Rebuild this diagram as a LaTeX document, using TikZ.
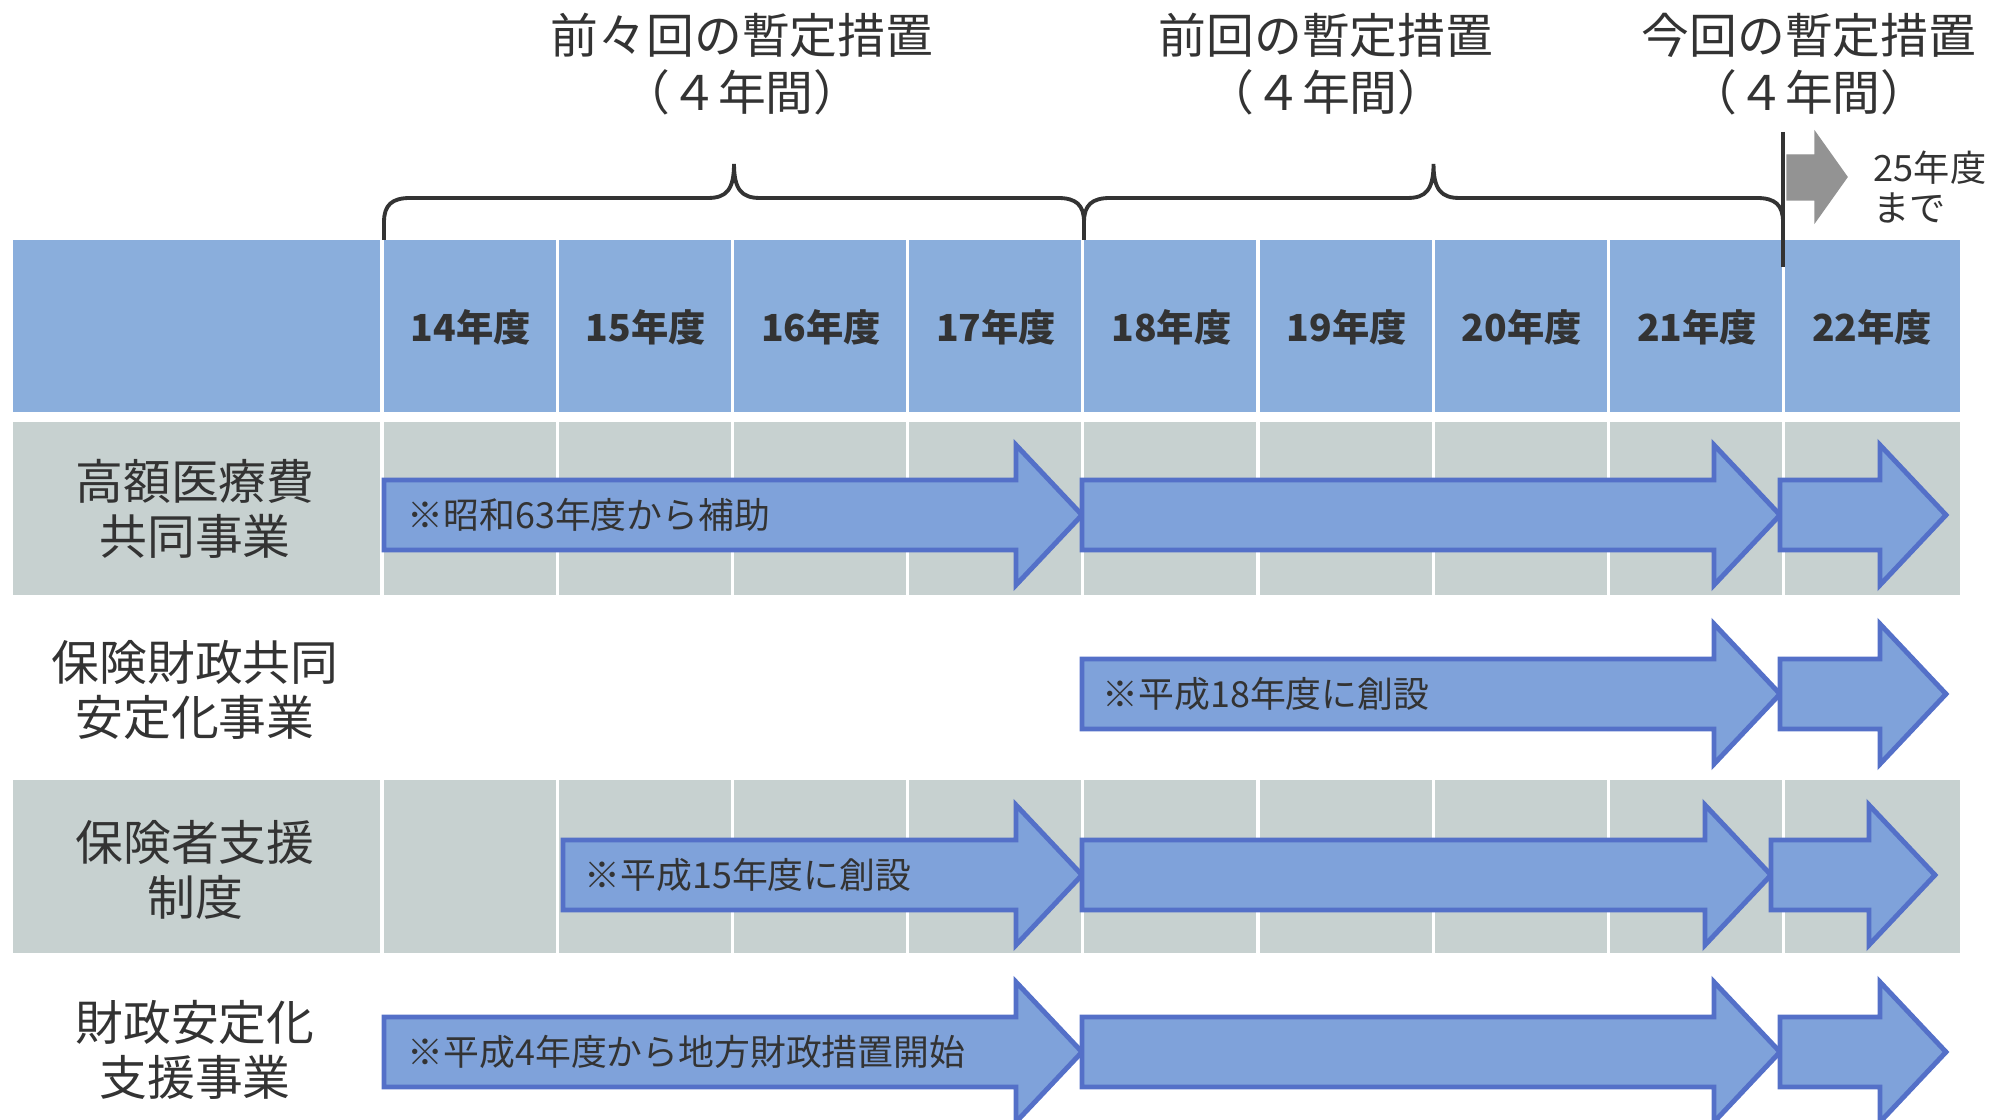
\documentclass[tikz,border=0pt]{standalone}
\usepackage{fontspec}
\setmainfont{Noto Sans CJK JP}
\definecolor{headblue}{HTML}{8AAEDC}
\definecolor{rowgray}{HTML}{C7D1D0}
\definecolor{arrowfill}{HTML}{7FA2DA}
\definecolor{arrowline}{HTML}{5470C8}
\definecolor{ink}{HTML}{333333}
\begin{document}
\begin{tikzpicture}[x=0.1mm,y=-0.1mm,
		heading/.style={font=\fontsize{13.6}{16.2}\selectfont,text=ink,align=center},
		rowlabel/.style={font=\fontsize{13.6}{15.6}\selectfont,text=ink,align=center},
		yearlabel/.style={font=\bfseries\fontsize{10.6}{13}\selectfont,text=ink},
		note/.style={font=\fontsize{10.2}{12}\selectfont,text=ink,anchor=west,inner sep=0pt},
		arrowbody/.style={fill=arrowfill,draw=arrowline,line width=1.4pt,line join=miter},
		bracket/.style={draw=ink,line width=1.1pt}]
		\useasboundingbox(0,0)rectangle(2005,1120);
		\def\fatarrow(#1,#2,#3){\filldraw[arrowbody](#1,#3-35)--(#2-66,#3-35)--(#2-66,#3-70)--(#2,#3)--(#2-66,#3+70)--(#2-66,#3+35)--(#1,#3+35)--cycle;}%
		\def\spanbrace(#1,#2){\draw[bracket](#1,240)--(#1,222)..controls(#1,205)and(#1+8,198)..(#1+26,198)--({(#1+#2)/2-26},198)..controls({(#1+#2)/2-8},198)and({(#1+#2)/2},190)..({(#1+#2)/2},164)..controls({(#1+#2)/2},190)and({(#1+#2)/2+8},198)..({(#1+#2)/2+26},198)--(#2-26,198)..controls(#2-8,198)and(#2,205)..(#2,222)--(#2,240);}%

		% table background
		\fill[headblue](13,240)rectangle(1960,412);
		\fill[rowgray](13,422)rectangle(1960,595);
		\fill[rowgray](13,780)rectangle(1960,953);
		\foreach \i in {0,...,8}
			\draw[white,line width=0.9pt](382+175.2*\i,236)--(382+175.2*\i,957);
		\fill[white](13,412)rectangle(1960,422);
		\fill[white](13,595)rectangle(1960,600);
		\fill[white](13,775)rectangle(1960,780);

		\foreach \y [count=\i] in {14,...,22}
			\node[yearlabel](y\y)at(295.4+175.2*\i,327){\y 年度};

		% periods
		\node[heading](prev2)at(742,64){前々回の暫定措置\\（４年間）};
		\node[heading](prev1)at(1326,64){前回の暫定措置\\（４年間）};
		\node[heading](now)at(1809,64){今回の暫定措置\\（４年間）};
		\spanbrace(384,1084)
		\spanbrace(1084,1783)
		\draw[ink,line width=1.3pt](1783,132)--(1783,267);
		\filldraw[fill=gray!85,draw=gray!85](1787,155)--(1815,155)--(1815,132)--(1847,177)--(1815,222)--(1815,200)--(1787,200)--cycle;
		\node[note,font=\fontsize{10.3}{11.4}\selectfont,align=left](until)at(1873,187){25年度\\まで};

		% rows
		\node[rowlabel](kogaku)at(195,509){高額医療費\\共同事業};
		\node[rowlabel](hoken)at(195,690){保険財政共同\\安定化事業};
		\node[rowlabel](shien)at(195,870){保険者支援\\制度};
		\node[rowlabel](zaisei)at(195,1050){財政安定化\\支援事業};

		\fatarrow(384,1082,515)
		\fatarrow(1082,1780,515)
		\fatarrow(1780,1946,515)
		\fatarrow(1082,1780,694)
		\fatarrow(1780,1946,694)
		\fatarrow(563,1082,875)
		\fatarrow(1082,1771,875)
		\fatarrow(1771,1935,875)
		\fatarrow(384,1082,1052)
		\fatarrow(1082,1780,1052)
		\fatarrow(1780,1946,1052)

		\node[note](n1)at(407,515){※昭和63年度から補助};
		\node[note](n2)at(1102,694){※平成18年度に創設};
		\node[note](n3)at(584,875){※平成15年度に創設};
		\node[note](n4)at(407,1052){※平成4年度から地方財政措置開始};
	\end{tikzpicture}
\end{document}
